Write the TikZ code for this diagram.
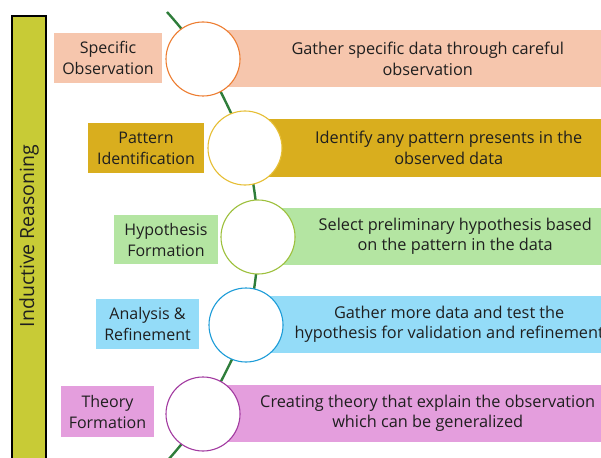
\documentclass[tikz,border=0pt]{standalone}
\usepackage{fontspec}
\setmainfont{Open Sans}
\usetikzlibrary{positioning}

\definecolor{barfill}{HTML}{C8CB36}
\definecolor{spine}{HTML}{2E7D3A}
\definecolor{ink}{HTML}{1F1F1F}
\definecolor{obsfill}{HTML}{F6C6AD}
\definecolor{obsline}{HTML}{ED7D31}
\definecolor{patfill}{HTML}{D9AE1E}
\definecolor{patline}{HTML}{E6BE34}
\definecolor{hypfill}{HTML}{B4E5A2}
\definecolor{hypline}{HTML}{9DC03C}
\definecolor{anafill}{HTML}{94DCF8}
\definecolor{analine}{HTML}{1C9CD8}
\definecolor{thefill}{HTML}{E49EDD}
\definecolor{theline}{HTML}{A23AA0}

\begin{document}
\begin{tikzpicture}[x=1pt, y=-1pt,
  stage/.style={rectangle, align=center, inner sep=0pt, text=ink,
    font=\fontsize{16}{21}\selectfont},
  note/.style={rectangle, anchor=west, align=center, inner sep=0pt, text=ink,
    minimum height=57pt, font=\fontsize{16.3}{20.5}\selectfont},
  ring/.style={circle, draw, fill=white, line width=1.1pt,
    minimum size=74pt, inner sep=0pt}]

  \useasboundingbox (0,0) rectangle (601,457);
  \clip (0,0) rectangle (601,457);

  % side bar
  \draw[fill=barfill, line width=2.6pt] (12,16) rectangle (46,480);
  \node[rotate=90, text=ink, font=\fontsize{19.5}{22}\selectfont] (side) at (29,236)
    {Inductive Reasoning};

  % centres of the rings
  \coordinate (p1) at (203,59);
  \coordinate (p2) at (245,148);
  \coordinate (p3) at (258,237);
  \coordinate (p4) at (246,325);
  \coordinate (p5) at (203,414);
  \coordinate (top) at (167,12);
  \coordinate (bot) at (168,460);

  % descriptions, behind the rings
  \node[note, fill=obsfill, minimum width=401pt] (d1) at (227,59)
    {Gather specific data through careful\\observation};
  \node[note, fill=patfill, minimum width=359pt] (d2) at (269,148)
    {Identify any pattern presents in the\\observed data};
  \node[note, fill=hypfill, minimum width=346pt] (d3) at (282,236.5)
    {Select preliminary hypothesis based\\on the pattern in the data};
  \node[note, fill=anafill, minimum width=358pt] (d4) at (270,324.5)
    {Gather more data and test the\\hypothesis for validation and refinement};
  \node[note, fill=thefill, minimum width=401pt] (d5) at (227,413.5)
    {Creating theory that explain the observation\\which can be generalized};

  % step names
  \node[stage, fill=obsfill, minimum width=108pt, minimum height=50pt] (s1) at (108,58)
    {Specific\\Observation};
  \node[stage, fill=patfill, minimum width=116pt, minimum height=50pt] (s2) at (146,148)
    {Pattern\\Identification};
  \node[stage, fill=hypfill, minimum width=104pt, minimum height=49pt] (s3) at (166,239.5)
    {Hypothesis\\Formation};
  \node[stage, fill=anafill, minimum width=103pt, minimum height=50pt] (s4) at (147.5,324)
    {Analysis \&\\Refinement};
  \node[stage, fill=thefill, minimum width=93pt, minimum height=51pt] (s5) at (107.5,411.5)
    {Theory\\Formation};

  % the green line through all steps
  \draw[spine, line width=2.4pt] plot[smooth, tension=0.55]
    coordinates {(top) (p1) (p2) (p3) (p4) (p5) (bot)};

  % rings
  \node[ring, draw=obsline] (r1) at (p1) {};
  \node[ring, draw=patline] (r2) at (p2) {};
  \node[ring, draw=hypline] (r3) at (p3) {};
  \node[ring, draw=analine] (r4) at (p4) {};
  \node[ring, draw=theline] (r5) at (p5) {};
\end{tikzpicture}
\end{document}
